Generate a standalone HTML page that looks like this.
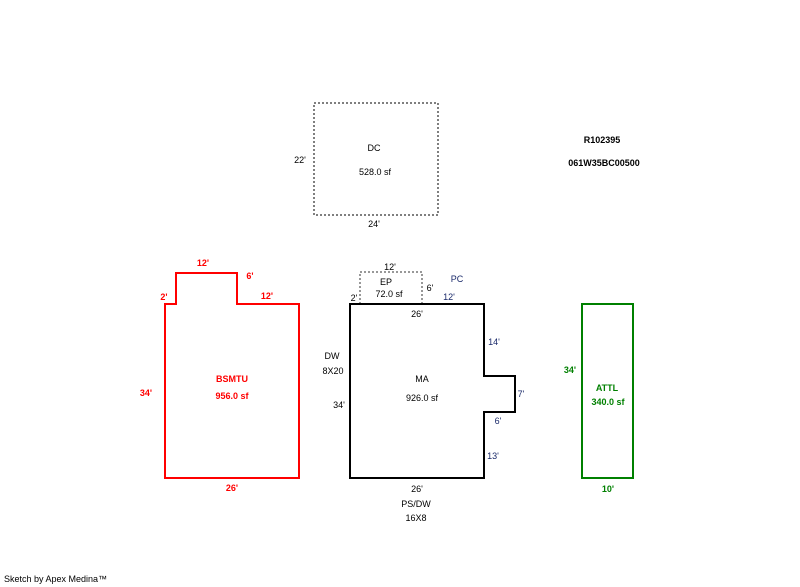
<!DOCTYPE html>
<html><head><meta charset="utf-8"><style>
html,body{margin:0;padding:0;background:#fff;}
svg{display:block;}
text{font-family:"Liberation Sans",Arial,sans-serif;font-size:9px;}
</style></head><body>
<svg width="800" height="587" viewBox="0 0 800 587" xmlns="http://www.w3.org/2000/svg">
<!-- DC -->
<rect x="314" y="103" width="124" height="112" fill="none" stroke="#555" stroke-width="1.5" stroke-dasharray="2,2"/>
<text x="374" y="151" text-anchor="middle">DC</text>
<text x="375" y="175" text-anchor="middle">528.0 sf</text>
<text x="300" y="163" text-anchor="middle">22'</text>
<text x="374" y="227" text-anchor="middle">24'</text>

<text x="602" y="143" text-anchor="middle" font-weight="bold">R102395</text>
<text x="604" y="166" text-anchor="middle" font-weight="bold">061W35BC00500</text>

<!-- BSMTU -->
<polygon points="165,304 176,304 176,273 237,273 237,304 299,304 299,478 165,478" fill="none" stroke="#ff0000" stroke-width="2"/>
<g fill="#ff0000" font-weight="bold">
<text x="203" y="266" text-anchor="middle">12'</text>
<text x="250" y="279" text-anchor="middle">6'</text>
<text x="164" y="300" text-anchor="middle">2'</text>
<text x="267" y="299" text-anchor="middle">12'</text>
<text x="146" y="396" text-anchor="middle">34'</text>
<text x="232" y="382" text-anchor="middle">BSMTU</text>
<text x="232" y="399" text-anchor="middle">956.0 sf</text>
<text x="232" y="491" text-anchor="middle">26'</text>
</g>

<!-- EP -->
<polyline points="360,304 360,272 422,272 422,304" fill="none" stroke="#777" stroke-width="1.5" stroke-dasharray="2,2"/>
<text x="390" y="270" text-anchor="middle">12'</text>
<text x="386" y="285" text-anchor="middle">EP</text>
<text x="389" y="297" text-anchor="middle">72.0 sf</text>
<text x="430" y="291" text-anchor="middle">6'</text>
<text x="354" y="301" text-anchor="middle">2'</text>

<!-- MA -->
<polygon points="350,304 484,304 484,376 515,376 515,412 484,412 484,478 350,478" fill="none" stroke="#000" stroke-width="2"/>
<g fill="#1a2a6a">
<text x="457" y="282" text-anchor="middle">PC</text>
<text x="449" y="300" text-anchor="middle">12'</text>
<text x="494" y="345" text-anchor="middle">14'</text>
<text x="521" y="397" text-anchor="middle">7'</text>
<text x="498" y="424" text-anchor="middle">6'</text>
<text x="493" y="459" text-anchor="middle">13'</text>
</g>
<text x="417" y="317" text-anchor="middle">26'</text>
<text x="332" y="359" text-anchor="middle">DW</text>
<text x="333" y="374" text-anchor="middle">8X20</text>
<text x="339" y="408" text-anchor="middle">34'</text>
<text x="422" y="382" text-anchor="middle">MA</text>
<text x="422" y="401" text-anchor="middle">926.0 sf</text>
<text x="417" y="492" text-anchor="middle">26'</text>
<text x="416" y="507" text-anchor="middle">PS/DW</text>
<text x="416" y="521" text-anchor="middle">16X8</text>

<!-- ATTL -->
<rect x="582" y="304" width="51" height="174" fill="none" stroke="#008000" stroke-width="2"/>
<g fill="#008000" font-weight="bold">
<text x="570" y="373" text-anchor="middle">34'</text>
<text x="607" y="391" text-anchor="middle">ATTL</text>
<text x="608" y="405" text-anchor="middle">340.0 sf</text>
<text x="608" y="492" text-anchor="middle">10'</text>
</g>

<text x="4" y="582">Sketch by Apex Medina™</text>
</svg>
</body></html>
